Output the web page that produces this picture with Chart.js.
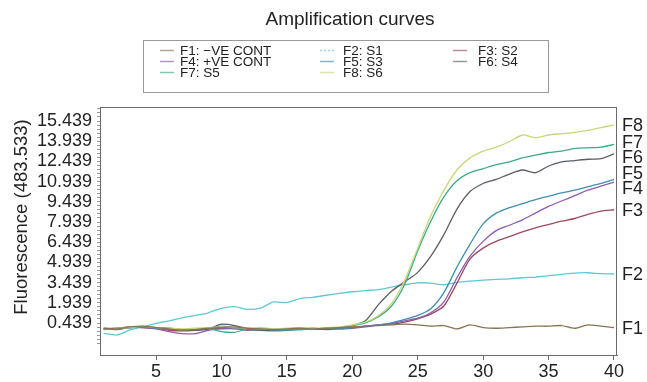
<!DOCTYPE html>
<html><head><meta charset="utf-8">
<script src="https://cdn.jsdelivr.net/npm/chart.js@4.4.0/dist/chart.umd.min.js"></script>
<style>html,body{margin:0;padding:0;background:#fff;}#wrap{position:relative;width:647px;height:382px;}</style>
</head><body><div id="wrap"><canvas id="c" width="647" height="382"></canvas></div>
<script>
const chartTitle = 'Amplification curves';
const yAxisTitle = 'Fluorescence (483.533)';
const cycles = [1,2,3,4,5,6,7,8,9,10,11,12,13,14,15,16,17,18,19,20,21,22,23,24,25,26,27,28,29,30,31,32,33,34,35,36,37,38,39,40];
const seriesNames = ['F1: \u2212VE CONT','F2: S1','F3: S2','F4: +VE CONT','F5: S3','F6: S4','F7: S5','F8: S6'];
const endLabels = ['F1','F2','F3','F4','F5','F6','F7','F8'];
const xTickValues = [5,10,15,20,25,30,35,40];
const yTickLabels = ['0.439','1.939','3.439','4.939','6.439','7.939','9.439','10.939','12.439','13.939','15.439'];

const f1 = [0.05,0.0,0.15,0.2,0.1,0.0,-0.1,-0.05,0.05,0.1,0.15,0.05,0.0,-0.05,0.0,0.05,0.0,0.05,0.1,0.15,0.2,0.25,0.3,0.35,0.3,0.2,0.25,0.0,0.3,0.1,0.05,0.1,0.15,0.2,0.2,0.25,0.05,0.3,0.2,0.1];
const f2 = [-0.33,-0.45,-0.08,0.15,0.41,0.6,0.82,1.0,1.2,1.53,1.65,1.45,1.55,2.0,1.95,2.25,2.35,2.5,2.64,2.76,2.85,2.92,3.1,3.28,3.42,3.4,3.28,3.45,3.55,3.63,3.68,3.72,3.8,3.85,3.95,4.05,4.15,4.17,4.1,4.08];
const f3 = [0.0,0.05,0.15,0.1,0.05,-0.1,-0.15,-0.1,0.0,0.05,0.0,-0.05,0.0,-0.05,-0.05,0.0,0.05,0.0,0.05,0.1,0.2,0.3,0.35,0.5,0.75,1.1,1.7,3.4,5.2,6.0,6.5,6.85,7.2,7.5,7.75,8.0,8.2,8.5,8.75,8.85];
const f4 = [0.0,0.05,0.1,0.1,0.0,-0.2,-0.35,-0.35,-0.1,0.0,0.05,-0.1,-0.05,-0.1,-0.1,0.0,0.0,-0.05,0.0,0.05,0.15,0.3,0.4,0.6,0.8,1.2,2.0,3.8,5.4,6.5,7.3,7.7,8.1,8.6,9.1,9.5,9.9,10.3,10.6,10.9];
const f5 = [-0.05,0.0,0.1,0.15,0.05,0.0,-0.05,-0.1,0.05,0.2,0.1,0.0,-0.1,-0.15,-0.1,-0.05,0.0,0.0,0.0,0.1,0.2,0.3,0.45,0.7,1.0,1.5,2.7,4.6,6.3,7.8,8.6,9.0,9.3,9.6,9.85,10.1,10.3,10.55,10.8,11.1];
const f6 = [0.0,-0.05,0.1,0.15,0.1,0.05,-0.05,-0.1,0.0,0.35,0.25,0.0,-0.1,-0.05,0.0,0.05,0.0,0.0,0.1,0.25,0.6,1.8,2.8,3.5,4.2,5.4,7.0,8.9,10.2,10.8,11.1,11.5,11.8,11.6,12.1,12.4,12.5,12.6,12.65,13.0];
const f7 = [0.05,0.0,0.1,0.15,0.1,0.0,-0.05,0.0,0.05,-0.2,-0.25,0.0,0.05,0.0,-0.05,-0.05,0.0,0.05,0.1,0.25,0.45,0.9,1.7,3.3,5.8,8.0,9.8,11.0,11.6,11.9,12.2,12.4,12.7,12.9,13.1,13.2,13.4,13.45,13.5,13.7];
const f8 = [0.0,0.05,0.1,0.2,0.1,0.05,0.0,0.05,0.1,0.15,0.1,0.05,0.0,0.0,0.05,0.1,0.05,0.1,0.15,0.3,0.5,1.0,1.9,3.6,6.0,8.4,10.3,11.8,12.7,13.2,13.5,13.9,14.4,14.2,14.4,14.5,14.6,14.75,14.95,15.15];
const seriesValues = [f1,f2,f3,f4,f5,f6,f7,f8];
const seriesColors = ['#8a7450','#5ccad4','#9c4a5e','#8a5cae','#3f8fae','#5a5e66','#3daa8c','#c9d67a'];

const majorY = yTickLabels.map(parseFloat);
const minorY = [];
for (let v = majorY[0] - 1.5; v <= majorY[majorY.length-1] + 1.2; v += 0.3) minorY.push(Math.round(v*1000)/1000);

const FONT = '"Liberation Sans", Arial, sans-serif';
const datasets = seriesValues.map((vals,i)=>({
  label: seriesNames[i],
  data: cycles.map((c,k)=>({x:c,y:vals[k]})),
  borderColor: seriesColors[i],
  borderWidth: 1.3,
  pointRadius: 0,
  tension: 0.25,
  fill: false
}));
datasets.forEach((d,i)=>{ d.order = i===0 ? -1 : 8-i; });

const decor = {
  id:'decor',
  afterDraw(chart){
    const ctx = chart.ctx, a = chart.chartArea;
    ctx.save();
    ctx.strokeStyle = '#6a6a6a'; ctx.lineWidth = 1;
    ctx.strokeRect(a.left+0.5, a.top+0.5, a.right-a.left-1, a.bottom-a.top);
    ctx.fillStyle = '#222'; ctx.font = '19px ' + FONT;
    ctx.textAlign = 'center'; ctx.textBaseline = 'middle';
    ctx.fillText(chartTitle, 350, 20);
    ctx.save(); ctx.translate(22, 217); ctx.rotate(-Math.PI/2);
    ctx.font = '18.5px ' + FONT;
    ctx.fillText(yAxisTitle, 0, 0); ctx.restore();
    ctx.strokeStyle = '#999';
    ctx.strokeRect(143.5, 40.5, 405, 52);
    const colLine = [160, 320, 453], colText = [180, 343, 478], rowY = [50.5, 61.5, 72.5];
    ctx.font = '13.5px ' + FONT;
    ctx.textAlign = 'left';
    seriesNames.forEach((n,i)=>{
      const col = i%3, row = Math.floor(i/3);
      ctx.globalAlpha = 0.65; ctx.strokeStyle = seriesColors[i]; ctx.lineWidth = 1.5;
      if (i===1) ctx.setLineDash([2,2]); else ctx.setLineDash([]);
      ctx.beginPath(); ctx.moveTo(colLine[col], rowY[row]); ctx.lineTo(colLine[col]+14, rowY[row]); ctx.stroke();
      ctx.globalAlpha = 1; ctx.setLineDash([]);
      ctx.fillStyle = '#222'; ctx.fillText(n, colText[col], rowY[row]+0.5);
    });
    const ys = chart.scales.y;
    const items = seriesValues.map((v,i)=>({i, y: ys.getPixelForValue(v[v.length-1])})).sort((p,q)=>p.y-q.y);
    const gap = 15;
    for (let it=0; it<60; it++){
      let moved=false;
      for (let k=0;k<items.length-1;k++){
        const p=items[k], q=items[k+1];
        if (q.y-p.y < gap-0.01){ const m=(p.y+q.y)/2; p.y=m-gap/2; q.y=m+gap/2; moved=true; }
      }
      if(!moved) break;
    }
    ctx.font = '18px ' + FONT;
    ctx.fillStyle = '#222'; ctx.textAlign='left'; ctx.textBaseline='middle';
    items.forEach(p=>ctx.fillText(endLabels[p.i], a.right+5, p.y+1));
    ctx.restore();
  }
};

new Chart(document.getElementById('c'), {
  type:'line',
  data:{datasets},
  plugins:[decor],
  options:{
    responsive:false, animation:false, devicePixelRatio:1,
    layout:{padding:{top:107,right:30,bottom:0,left:0}},
    plugins:{legend:{display:false},title:{display:false},tooltip:{enabled:false}},
    scales:{
      x:{type:'linear', min:0.72, max:40.23,
        afterBuildTicks(s){ s.ticks = xTickValues.map(v=>({value:v})); },
        afterFit(s){ s.height = 27; },
        grid:{drawOnChartArea:false, tickLength:5, color:'#6a6a6a'},
        border:{color:'#6a6a6a'},
        ticks:{font:{family:FONT, size:18}, color:'#222', padding:1, maxRotation:0, autoSkip:false,
          callback:(v)=>String(v)}
      },
      y:{type:'linear', min:-1.937, max:16.48,
        afterBuildTicks(s){ s.ticks = minorY.filter(v=>v>=s.min&&v<=s.max).map(v=>({value:v})); },
        afterFit(s){ s.width = 100; },
        grid:{drawOnChartArea:false, tickLength:3, color:'#9a9a9a'},
        border:{color:'#6a6a6a'},
        ticks:{font:{family:FONT, size:18}, color:'#222', padding:5, autoSkip:false,
          callback:(v)=>{ const k = yTickLabels.findIndex(t=>Math.abs(parseFloat(t)-v)<1e-6); return k>=0 ? yTickLabels[k] : ''; }}
      }
    }
  }
});
</script></body></html>
